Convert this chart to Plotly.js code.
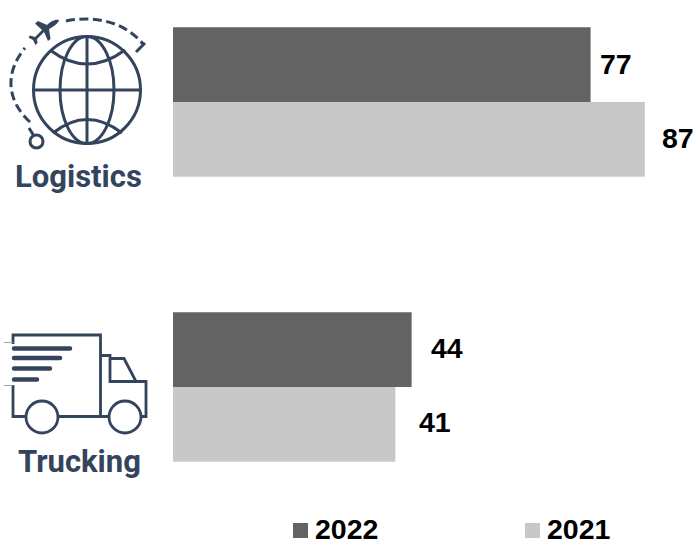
<!DOCTYPE html>
<html>
<head>
<meta charset="utf-8">
<script src="https://cdn.plot.ly/plotly-3.0.1.min.js"></script>
<style>html,body{margin:0;padding:0;background:#fff}</style>
</head>
<body>
<div id="chart" style="width:694px;height:540px"></div>
<script>
const categories = ["Logistics", "Trucking"];
const series2022 = [77, 44];
const series2021 = [87, 41];
const seriesNames = ["2022", "2021"];
const seriesColors = ["#636363", "#c8c8c8"];

const W = 694, H = 540, LEFT = 173;
const INK = "#34445c";
const numFont = {family: "Liberation Sans, Arial, sans-serif", size: 28.5, color: "#000"};

// page pixels to paper coordinates of the plot area
const px = v => (v - LEFT) / (W - LEFT);
const py = v => 1 - v / H;

const globeIcon = `<svg xmlns="http://www.w3.org/2000/svg" width="160" height="170" viewBox="0 0 160 170">
<g fill="none" stroke="${INK}" stroke-width="3">
<circle cx="87" cy="90" r="53.5"/>
<ellipse cx="87" cy="90" rx="27" ry="53.5"/>
<path d="M87 36.500V143.500M33.500 90H140.500"/>
<path d="M50 50Q87 78 125 50M53 133Q87 106 122 133"/>
<path d="M30 122C6 100 5 72 25 48M66 21C95 15 125 22 143 44" stroke-dasharray="9 4.500" stroke-width="3"/>
<path d="M145 43L136 52"/>
<circle cx="36.500" cy="141.500" r="6.500"/>
<path d="M29 128L34 136"/>
</g>
<path fill="${INK}" d="M59 20C55 19 50 22 47 25L38 21L35 23.500L42 30L35 37L30 35.500L28.500 37.500L33 40L35.500 45L37.500 43L37 39L44 32L48 41L50.500 39L49 29C53 27 58 24 59 20Z"/>
</svg>`;

const truckIcon = `<svg xmlns="http://www.w3.org/2000/svg" width="160" height="120" viewBox="0 320 160 120">
<g fill="none" stroke="${INK}" stroke-width="2.800">
<path d="M13 344V335H100.500V416M13 385V416.500H26M58 416.500H109M142 416.500H146V381.500H110V355.500H100.500"/>
<path d="M110 358.500H124L136 381.500"/>
<circle cx="42" cy="417" r="16"/>
<circle cx="125" cy="417" r="16"/>
</g>
<g fill="none" stroke="${INK}" stroke-width="4.500" stroke-linecap="round">
<path d="M14 348.500H70M14 358H60M14 368.500H50M14 379.500H37"/>
</g>
<path d="M4 342.500H13M4 385.500H13" stroke="#9aa3b0" stroke-width="1"/>
</svg>`;

const svgUri = s => "data:image/svg+xml;base64," + btoa(s);

// gap between a bar's end and its value label, per series and category
const labelGaps = [[7, 17], [15, 22]];
const valueLabels = [];
[series2022, series2021].forEach((vals, s) => {
  vals.forEach((v, c) => {
    valueLabels.push({
      x: v, y: c + (s === 0 ? -0.131 : 0.131),
      xref: "x", yref: "y", text: "<b>" + v + "</b>",
      showarrow: false, xanchor: "left", yanchor: "middle",
      xshift: labelGaps[s][c], yshift: c === 0 ? 1 : 2, font: numFont
    });
  });
});

const categoryLabels = categories.map((name, i) => ({
  xref: "paper", yref: "paper", x: px(i === 0 ? 78 : 79.500), y: py(i === 0 ? 176 : 461),
  text: "<b>" + name + "</b>", showarrow: false, xanchor: "center", yanchor: "middle",
  font: {family: "Roboto, sans-serif", size: 31, color: INK}
}));

const legendText = seriesNames.map((name, i) => ({
  xref: "paper", yref: "paper", x: px(i === 0 ? 313 : 545), y: py(529),
  text: "<b>" + name + "</b>", showarrow: false, xanchor: "left", yanchor: "middle",
  font: numFont
}));

const legendSwatches = seriesNames.map((name, i) => ({
  type: "rect", xref: "paper", yref: "paper", line: {width: 0}, fillcolor: seriesColors[i],
  x0: px(i === 0 ? 293 : 525), x1: px(i === 0 ? 308 : 540), y0: py(538), y1: py(523)
}));

const traces = [series2022, series2021].map((vals, i) => ({
  type: "bar", orientation: "h", name: seriesNames[i], y: categories, x: vals,
  marker: {color: seriesColors[i]}, hoverinfo: "x+name"
}));

Plotly.newPlot("chart", traces, {
  width: W, height: H,
  margin: {l: LEFT, r: 0, t: 0, b: 0, pad: 0},
  paper_bgcolor: "#fff", plot_bgcolor: "#fff",
  barmode: "group", bargap: 0.4755, bargroupgap: 0,
  showlegend: false,
  xaxis: {range: [0, 96.07], visible: false, fixedrange: true},
  yaxis: {type: "category", range: [1.5368, -0.3579], visible: false, fixedrange: true},
  shapes: legendSwatches,
  annotations: valueLabels.concat(categoryLabels, legendText),
  images: [
    {source: svgUri(globeIcon), xref: "paper", yref: "paper", x: px(0), y: py(0),
     sizex: 160 / (W - LEFT), sizey: 170 / H, xanchor: "left", yanchor: "top", sizing: "stretch", layer: "above"},
    {source: svgUri(truckIcon), xref: "paper", yref: "paper", x: px(0), y: py(320),
     sizex: 160 / (W - LEFT), sizey: 120 / H, xanchor: "left", yanchor: "top", sizing: "stretch", layer: "above"}
  ]
}, {displayModeBar: false});
</script>
</body>
</html>
